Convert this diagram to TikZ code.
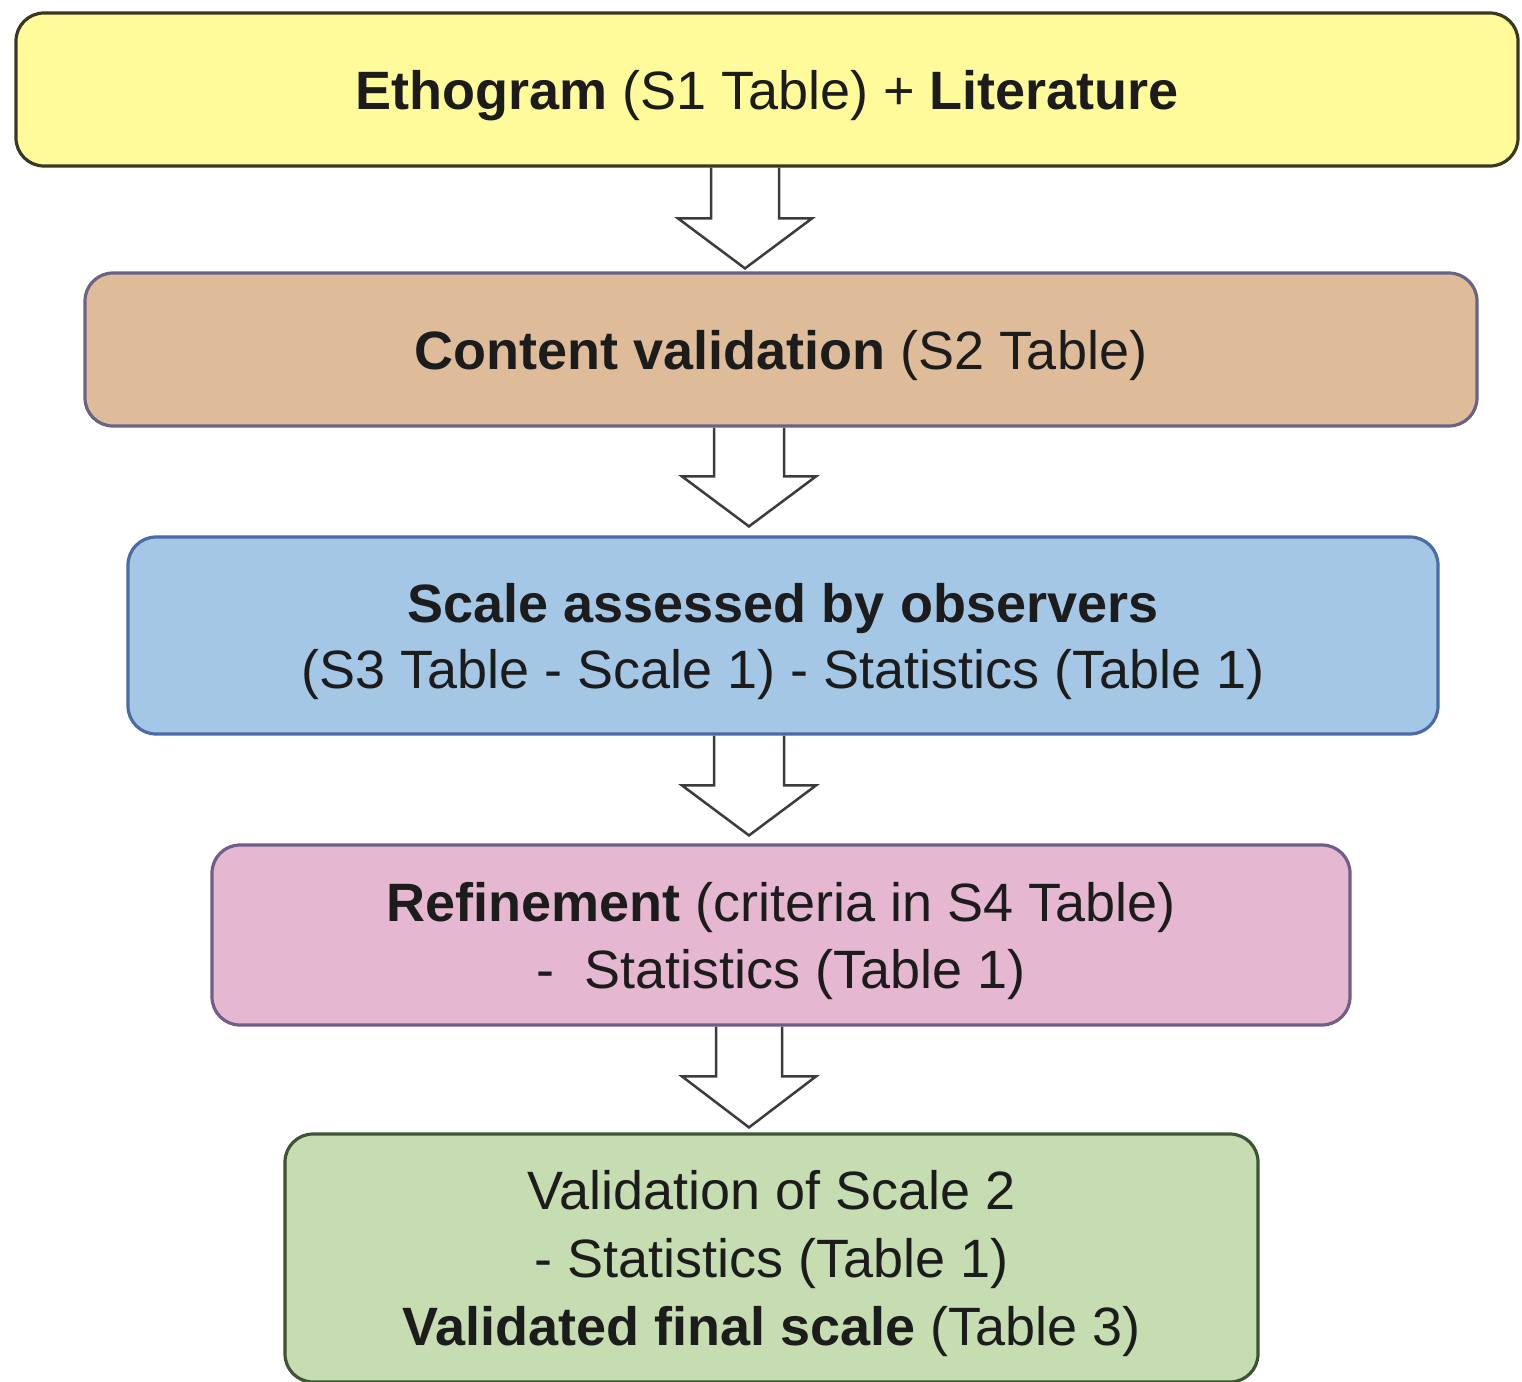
\documentclass[tikz,border=0pt]{standalone}
\usepackage{fontspec}
\setmainfont{Liberation Sans}
\usetikzlibrary{calc,backgrounds}
\definecolor{yfill}{HTML}{FFFB9A}
\definecolor{ydraw}{HTML}{3A3820}
\definecolor{tfill}{HTML}{DEBC99}
\definecolor{tdraw}{HTML}{686488}
\definecolor{bfill}{HTML}{A5C7E6}
\definecolor{bdraw}{HTML}{4A6BA5}
\definecolor{pfill}{HTML}{E5B7D1}
\definecolor{pdraw}{HTML}{705E88}
\definecolor{gfill}{HTML}{C5DDB1}
\definecolor{gdraw}{HTML}{3D5535}
\definecolor{txt}{HTML}{1C1C1C}
\definecolor{arr}{HTML}{3C3C3C}
\begin{document}
\begin{tikzpicture}[x=1pt,y=-1pt,
  flowbox/.style={line width=3.2pt, rounded corners=28pt, inner sep=0pt},
  flowtext/.style={inner sep=0pt, align=center, text=txt, yshift=-6pt,
    font=\fontsize{54}{66.5}\selectfont},
  blockarrow/.style={draw=arr, fill=white, line width=2.5pt, line join=miter}]
\useasboundingbox (0,0) rectangle (1522,1381);

\node[flowbox, draw=ydraw, fill=yfill, minimum width=1502pt, minimum height=153pt]
  (n1) at (767,89.5) {};
\node[flowtext] (t1) at (n1.center) {\textbf{Ethogram} (S1 Table) + \textbf{Literature}};
\node[flowbox, draw=tdraw, fill=tfill, minimum width=1392pt, minimum height=153pt]
  (n2) at (781,349.5) {};
\node[flowtext] (t2) at (n2.center) {\textbf{Content validation} (S2 Table)};
\node[flowbox, draw=bdraw, fill=bfill, minimum width=1310pt, minimum height=197pt]
  (n3) at (783,635.5) {};
\node[flowtext] (t3) at (n3.center) {\textbf{Scale assessed by observers}\\(S3 Table - Scale 1) - Statistics (Table 1)};
\node[flowbox, draw=pdraw, fill=pfill, minimum width=1138pt, minimum height=180pt]
  (n4) at (781,935) {};
\node[flowtext] (t4) at (n4.center) {\textbf{Refinement} (criteria in S4 Table)\\-\ \ Statistics (Table 1)};
\node[flowbox, draw=gdraw, fill=gfill, minimum width=973pt, minimum height=248pt]
  (n5) at (771.5,1258) {};
\node[flowtext, font=\fontsize{54}{68}\selectfont] (t5) at (n5.center) {Validation of Scale 2\\- Statistics (Table 1)\\\textbf{Validated final scale} (Table 3)};

\coordinate (ax1) at (745,0);
\coordinate (ax2) at (749,0);

\begin{scope}[on background layer]
\fill[white] (0,0) rectangle (1522,1381);
\draw[blockarrow] let \p1=(n1.south -| ax1), \p2=(n2.north -| ax1) in
  (\x1-34pt,\y1) -- (\x1-34pt,\y2+53pt) -- (\x1-67pt,\y2+53pt) -- (\x2,\y2+3pt)
  -- (\x1+67pt,\y2+53pt) -- (\x1+34pt,\y2+53pt) -- (\x1+34pt,\y1);
\draw[blockarrow] let \p1=(n2.south -| ax2), \p2=(n3.north -| ax2) in
  (\x1-35pt,\y1) -- (\x1-35pt,\y2+59pt) -- (\x1-67pt,\y2+59pt) -- (\x2,\y2+9pt)
  -- (\x1+67pt,\y2+59pt) -- (\x1+35pt,\y2+59pt) -- (\x1+35pt,\y1);
\draw[blockarrow] let \p1=(n3.south -| ax2), \p2=(n4.north -| ax2) in
  (\x1-35pt,\y1) -- (\x1-35pt,\y2+58pt) -- (\x1-67pt,\y2+58pt) -- (\x2,\y2+8pt)
  -- (\x1+67pt,\y2+58pt) -- (\x1+35pt,\y2+58pt) -- (\x1+35pt,\y1);
\draw[blockarrow] let \p1=(n4.south -| ax2), \p2=(n5.north -| ax2) in
  (\x1-33pt,\y1) -- (\x1-33pt,\y2+56pt) -- (\x1-67pt,\y2+56pt) -- (\x2,\y2+5pt)
  -- (\x1+67pt,\y2+56pt) -- (\x1+33pt,\y2+56pt) -- (\x1+33pt,\y1);
\end{scope}
\end{tikzpicture}
\end{document}
